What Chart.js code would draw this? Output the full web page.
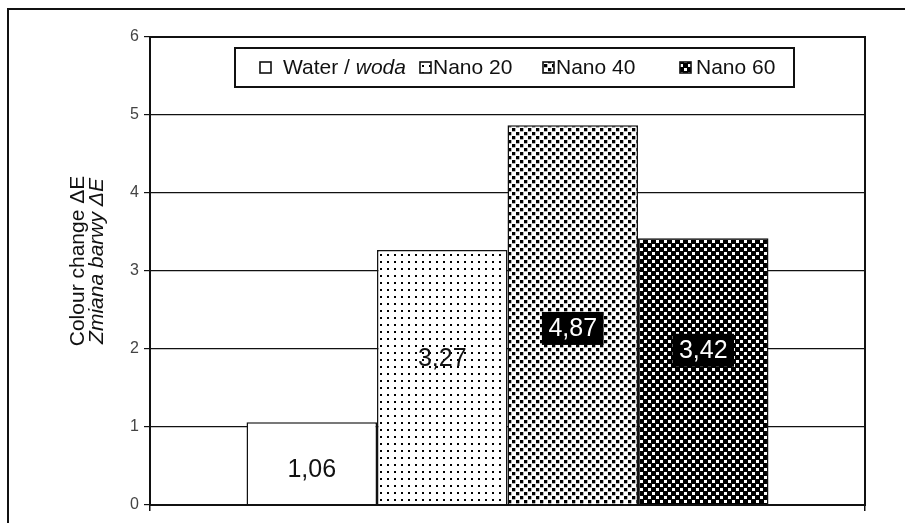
<!DOCTYPE html>
<html>
<head>
  <meta charset="UTF-8" />
  <title>Colour change</title>
  <script src="https://cdn.jsdelivr.net/npm/chart.js"></script>
  <style>
    html, body { margin: 0; padding: 0; background: #fff; }
  </style>
</head>
<body>
  <canvas id="chart" width="905" height="523"></canvas>
  <script>
    // values
    const categories = [''];
    const seriesNames = ['Water / woda', 'Nano 20', 'Nano 40', 'Nano 60'];
    const colourChange = [1.06, 3.27, 4.87, 3.42];
    const valueTexts = ['1,06', '3,27', '4,87', '3,42'];
    const yTicks = [0, 1, 2, 3, 4, 5, 6];

    const canvas = document.getElementById('chart');
    const ctx = canvas.getContext('2d');

    function pattern(size, bg, fg, rects) {
      const c = document.createElement('canvas');
      c.width = c.height = size;
      const g = c.getContext('2d');
      g.fillStyle = bg;
      g.fillRect(0, 0, size, size);
      g.fillStyle = fg;
      rects.forEach(r => g.fillRect(r[0], r[1], r[2], r[3]));
      return ctx.createPattern(c, 'repeat');
    }

    const fills = [
      '#ffffff',
      pattern(7, '#fff', '#000', [[2, 2, 2, 2]]),
      pattern(8, '#fff', '#000', [[0, 0, 3.3, 3.3], [4, 4, 3.3, 3.3]]),
      pattern(8, '#000', '#fff', [[0, 0, 3, 3], [4, 4, 3, 3]])
    ];

    const FONT = 'Arial, "Liberation Sans", sans-serif';

    const decor = {
      id: 'decor',
      beforeDraw(chart) {
        const c = chart.ctx;
        c.save();
        c.fillStyle = '#fff';
        c.fillRect(0, 0, chart.width, chart.height);
        c.strokeStyle = '#111';
        c.lineWidth = 2;
        c.beginPath();
        c.moveTo(8, chart.height);
        c.lineTo(8, 9);
        c.lineTo(chart.width, 9);
        c.stroke();
        c.restore();
      },
      afterDatasetsDraw(chart) {
        const c = chart.ctx;
        const y = chart.scales.y;
        const labelAt = [0.46, 1.88, 2.27, 1.99];
        const boxed = [false, false, true, true];
        c.save();
        c.font = '25px ' + FONT;
        c.textAlign = 'center';
        c.textBaseline = 'middle';
        chart.data.datasets.forEach((ds, i) => {
          const bar = chart.getDatasetMeta(i).data[0];
          const py = y.getPixelForValue(labelAt[i]);
          const txt = valueTexts[i];
          if (boxed[i]) {
            const w = c.measureText(txt).width + 13;
            c.fillStyle = '#000';
            c.fillRect(bar.x - w / 2, py - 16, w, 33);
            c.fillStyle = '#fff';
          } else {
            c.fillStyle = '#111';
          }
          c.fillText(txt, bar.x, py + 1);
        });
        c.restore();
      },
      afterDraw(chart) {
        const c = chart.ctx;
        const a = chart.chartArea;
        c.save();
        // plot frame
        c.strokeStyle = '#111';
        c.lineWidth = 2;
        c.strokeRect(a.left, a.top, a.right - a.left, a.bottom - a.top);

        // legend box
        c.fillStyle = '#fff';
        c.fillRect(235, 48, 559, 39);
        c.strokeRect(235, 48, 559, 39);
        const swatchX = [260, 420, 543, 680];
        const textX = [283, 433, 556, 696];
        c.textBaseline = 'middle';
        c.textAlign = 'left';
        chart.data.datasets.forEach((ds, i) => {
          c.fillStyle = ds.backgroundColor;
          c.fillRect(swatchX[i], 62, 11, 11);
          c.lineWidth = 1.6;
          c.strokeRect(swatchX[i], 62, 11, 11);
          c.fillStyle = '#111';
          const parts = ds.label.split(' / ');
          c.font = '21px ' + FONT;
          let x = textX[i];
          const main = parts.length > 1 ? parts[0] + ' / ' : parts[0];
          c.fillText(main, x, 68);
          if (parts.length > 1) {
            x += c.measureText(main).width;
            c.font = 'italic 21px ' + FONT;
            c.fillText(parts[1], x, 68);
          }
        });

        // y axis title, two lines
        c.textAlign = 'center';
        c.translate(78, 261);
        c.rotate(-Math.PI / 2);
        c.font = '21px ' + FONT;
        c.fillText('Colour change \u0394E', 0, 0);
        c.font = 'italic 21px ' + FONT;
        c.fillText('Zmiana barwy \u0394E', 0, 19);
        c.restore();
      }
    };

    new Chart(ctx, {
      type: 'bar',
      data: {
        labels: categories,
        datasets: seriesNames.map((name, i) => ({
          label: name,
          data: [colourChange[i]],
          backgroundColor: fills[i],
          borderColor: '#111',
          borderWidth: 1.5,
          categoryPercentage: 0.73,
          barPercentage: 1
        }))
      },
      options: {
        responsive: false,
        animation: false,
        devicePixelRatio: 1,
        layout: { padding: { top: 37, right: 40, left: 0, bottom: 0 } },
        plugins: {
          legend: { display: false },
          tooltip: { enabled: false }
        },
        scales: {
          x: {
            grid: { display: true, drawOnChartArea: false, offset: true, tickLength: 6, color: '#111', lineWidth: 1.5 },
            border: { color: '#111', width: 2 },
            ticks: { display: false },
            afterFit(scale) { scale.height = 18; }
          },
          y: {
            min: 0,
            max: 6,
            afterBuildTicks(scale) { scale.ticks = yTicks.map(v => ({ value: v })); },
            grid: { color: '#111', lineWidth: 1.2, tickLength: 6 },
            border: { color: '#111', width: 2 },
            ticks: {
              color: '#444',
              padding: 5,
              font: { family: FONT, size: 16 }
            },
            afterFit(scale) { scale.width = 150; }
          }
        }
      },
      plugins: [decor]
    });
  </script>
</body>
</html>
